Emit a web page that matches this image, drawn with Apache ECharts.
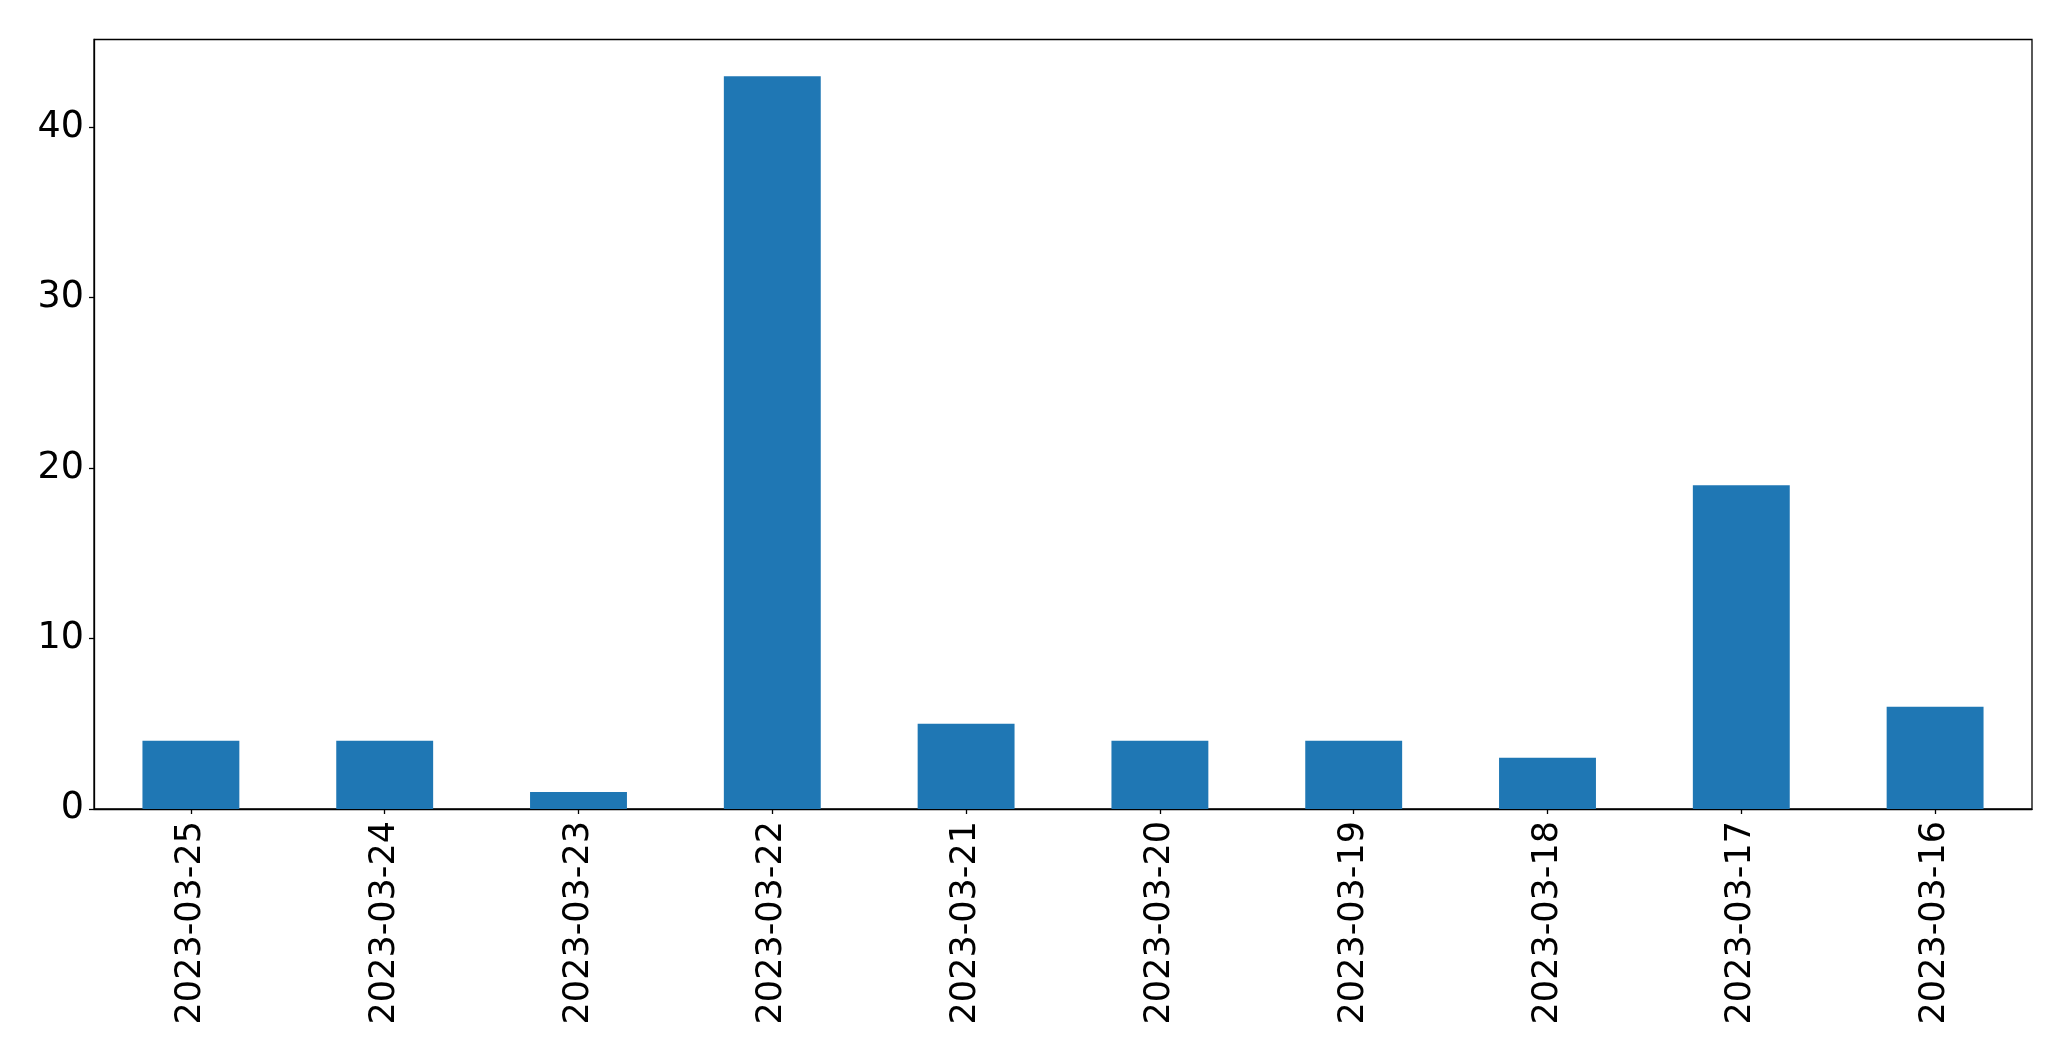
<!DOCTYPE html>
<html>
<head>
<meta charset="utf-8">
<script src="https://cdn.jsdelivr.net/npm/echarts@6/dist/echarts.min.js"></script>
<style>
html,body{margin:0;padding:0;background:#fff;}
#chart{width:2071px;height:1061px;}
</style>
</head>
<body>
<div id="chart"></div>
<script>
const categories = ["2023-03-25","2023-03-24","2023-03-23","2023-03-22","2023-03-21","2023-03-20","2023-03-19","2023-03-18","2023-03-17","2023-03-16"];
const values = [4,4,1,43,5,4,4,3,19,6];
const yTicks = [0,10,20,30,40];

const chart = echarts.init(document.getElementById('chart'), null, {renderer:'canvas'});
const font = 'DejaVu Sans';
chart.setOption({
  animation:false,
  backgroundColor:'#fff',
  grid:{left:94, right:39, top:39.5, bottom:252, show:true, borderColor:'#000', borderWidth:1.3, backgroundColor:'transparent', containLabel:false},
  xAxis:{
    type:'category', data:categories, boundaryGap:true,
    axisLine:{show:true, lineStyle:{color:'#000', width:1.3}},
    axisTick:{show:true, alignWithLabel:true, length:5, lineStyle:{color:'#000', width:1.3}},
    axisLabel:{rotate:90, color:'#000', fontSize:35, fontFamily:font, margin:12, interval:0},
    splitLine:{show:false}
  },
  yAxis:{
    type:'value', min:0, max:45.15, interval:10,
    axisLine:{show:true, lineStyle:{color:'#000', width:1.3}},
    axisTick:{show:true, length:5, customValues:yTicks, lineStyle:{color:'#000', width:1.3}},
    axisLabel:{color:'#000', fontSize:36.5, fontFamily:font, margin:10, customValues:yTicks,
      formatter:function(v){return yTicks.indexOf(v)>=0 ? String(v) : '';}},
    splitLine:{show:false}
  },
  series:[{type:'bar', data:values, barWidth:'50%', itemStyle:{color:'#1f77b4'}}]
});
</script>
</body>
</html>
